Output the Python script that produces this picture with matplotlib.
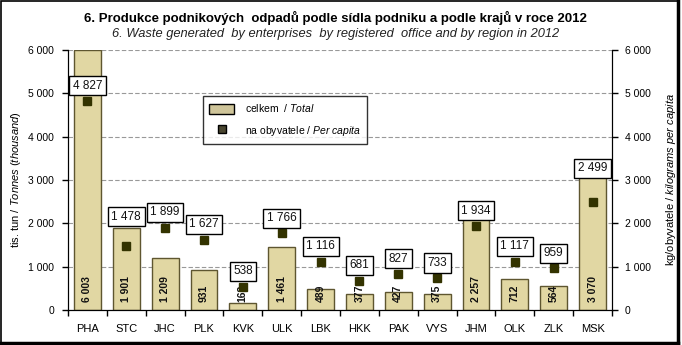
import matplotlib
matplotlib.use('Agg')
import matplotlib.pyplot as plt
from matplotlib.patches import Rectangle
from matplotlib.lines import Line2D
from matplotlib.ticker import FuncFormatter, MultipleLocator

plt.rcParams['font.family'] = ['Liberation Sans', 'DejaVu Sans']
plt.rcParams['mathtext.fontset'] = 'custom'
plt.rcParams['mathtext.rm'] = 'Liberation Sans'
plt.rcParams['mathtext.it'] = 'Liberation Sans:italic'

kraje = ['PHA', 'STC', 'JHC', 'PLK', 'KVK', 'ULK', 'LBK', 'HKK', 'PAK', 'VYS',
         'JHM', 'OLK', 'ZLK', 'MSK']
celkem = [6003, 1901, 1209, 931, 163, 1461, 489, 377, 427, 375, 2257, 712, 564, 3070]
na_obyvatele = [4827, 1478, 1899, 1627, 538, 1766, 1116, 681, 827, 733, 1934, 1117, 959, 2499]

bar_color = '#E1D7A3'
bar_edge = '#5E5630'
mark_color = '#333300'


def mezery(v, pos=None):
    return f'{int(v):,}'.replace(',', ' ')


fig = plt.figure(figsize=(6.82, 3.45), dpi=100)
ax = fig.add_axes([0.0997, 0.1014, 0.7977, 0.7536])
ax2 = ax.twinx()

x = range(len(kraje))
ax.bar(x, celkem, width=0.69, color=bar_color, edgecolor=bar_edge, linewidth=1, zorder=2)
ax2.plot(x, na_obyvatele, linestyle='none', marker='s', markersize=6,
         color=mark_color, zorder=3)

for ax_ in (ax, ax2):
    ax_.set_ylim(0, 6000)
    ax_.yaxis.set_major_locator(MultipleLocator(1000))
    ax_.yaxis.set_major_formatter(FuncFormatter(mezery))
    ax_.tick_params(axis='y', labelsize=7.5, direction='out', length=4, width=1, pad=6)
    ax_.spines['top'].set_visible(False)
ax2.tick_params(axis='y', pad=5)
ax.set_xlim(-0.5, len(kraje) - 0.5)
ax.set_zorder(ax2.get_zorder() - 1)
ax2.patch.set_visible(False)

ax.yaxis.grid(True, linestyle=(0, (4, 2)), color='#999999', linewidth=0.8, zorder=0)
ax.set_axisbelow(True)

ax.set_xticks(list(x))
ax.set_xticklabels(kraje, fontsize=8)
ax.tick_params(axis='x', which='major', length=0, pad=10)
ax.set_xticks([i + 0.5 for i in range(-1, len(kraje))], minor=True)
ax.tick_params(axis='x', which='minor', length=4, width=1, direction='out')

# hodnoty celkem ve sloupcich
for i, v in enumerate(celkem):
    ax.annotate(mezery(v), (i, 0), xytext=(0, 6), textcoords='offset points',
                rotation=90, ha='center', va='bottom', fontsize=7.5,
                fontweight='bold', color='#111111', zorder=4)

# hodnoty na obyvatele v ramecku
posun = [11, 21, 11, 11, 11, 11, 11, 11, 11, 11, 11, 11, 11, 24]
for i, (v, d) in enumerate(zip(na_obyvatele, posun)):
    ax2.annotate(mezery(v), (i, v), xytext=(0, d), textcoords='offset points',
                 ha='center', va='center', fontsize=8.5, color='#111111', zorder=5,
                 bbox=dict(boxstyle='square,pad=0.3', fc='white', ec='black', lw=1))

ax.set_ylabel('tis. tun / $\\it{Tonnes\\ (thousand)}$', fontsize=8, labelpad=4)
ax2.set_ylabel('kg/obyvatele / $\\it{kilograms\\ per\\ capita}$', fontsize=8, labelpad=10)

handles = [Rectangle((0, 0), 1, 1, fc='#CFC59A', ec='black', lw=1),
           Line2D([], [], linestyle='none', marker='s', markersize=6,
                  color='#4A4630', markeredgecolor='black')]
labels = ['celkem  / $\\it{Total}$', 'na obyvatele / $\\it{Per\\ capita}$']
leg = ax.legend(handles, labels, loc='upper left', bbox_to_anchor=(0.248, 0.823),
                borderaxespad=0, fontsize=7.5, frameon=True, fancybox=False,
                edgecolor='black', handlelength=2.4, handleheight=1.1,
                labelspacing=0.9, borderpad=0.6, handletextpad=1.0)
leg.get_frame().set_linewidth(1)
leg.set_zorder(10)

fig.text(0.492, 0.948, '6. Produkce podnikových  odpadů podle sídla podniku a podle krajů v roce 2012',
         ha='center', va='center', fontsize=9.5, fontweight='bold')
fig.text(0.492, 0.902, '6. Waste generated  by enterprises  by registered  office and by region in 2012',
         ha='center', va='center', fontsize=9.3, style='italic', color='#222222')

# ramecek kolem obrazku, vpravo a dole silnejsi
fig.patches.append(Rectangle((0.001, 0.006), 0.993, 0.992, transform=fig.transFigure,
                             fill=False, ec='black', lw=1.2))
fig.lines.append(Line2D([0.001, 0.994], [0.006, 0.006], transform=fig.transFigure,
                        color='black', lw=2.5))
fig.lines.append(Line2D([0.994, 0.994], [0.006, 0.998], transform=fig.transFigure,
                        color='black', lw=2.5))

fig.savefig('out.png', dpi=100)
